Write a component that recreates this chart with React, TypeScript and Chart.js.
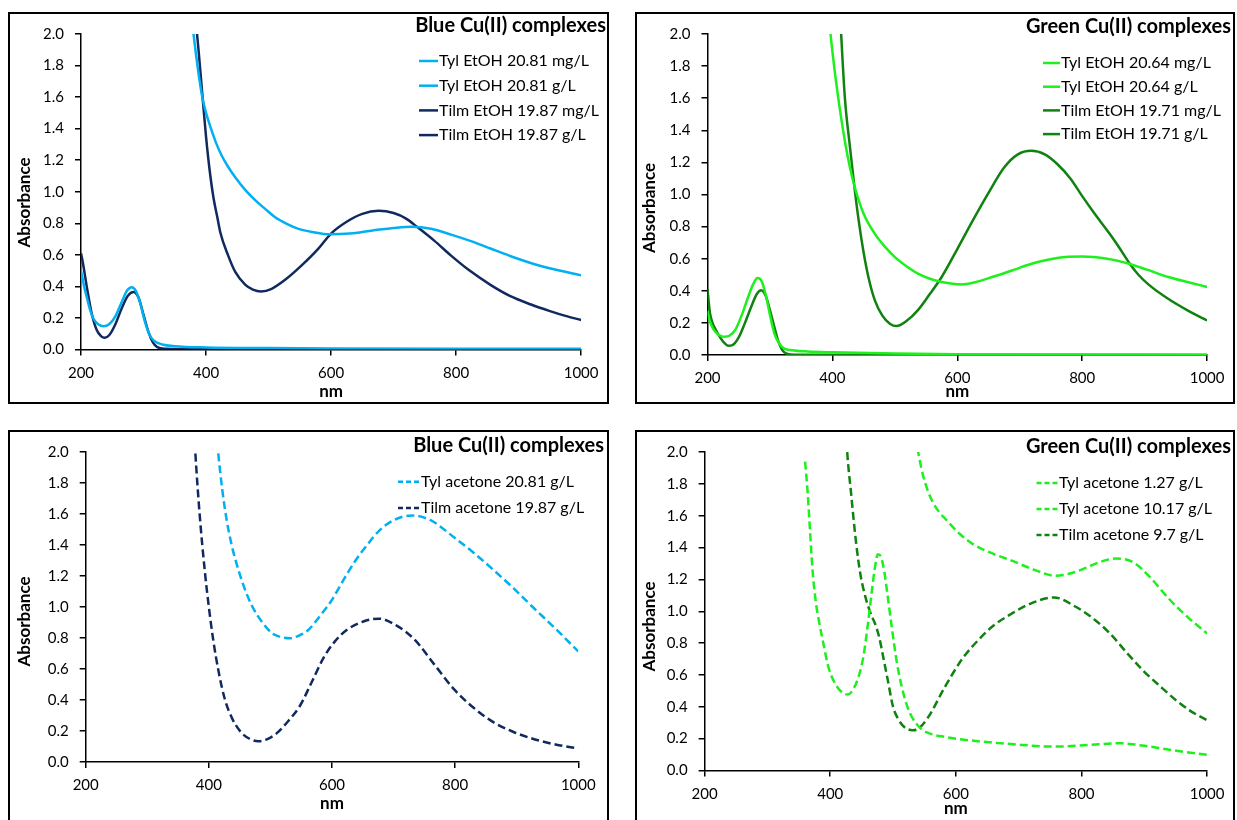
import React, { useEffect, useRef } from "react";
import { Chart, registerables } from "chart.js";
Chart.register(...registerables);

type Pt = [number, number];

// ---------- Panel 1: Blue Cu(II) complexes, EtOH ----------
const tylEtohBlueMg: Pt[] = [[200,0.50],[205,0.40],[210,0.32],[215,0.245],[220,0.195],[228,0.158],[236,0.147],[245,0.16],[255,0.21],[265,0.30],[274,0.375],[281,0.395],[288,0.37],[295,0.29],[302,0.18],[310,0.09],[318,0.052],[330,0.032],[350,0.021],[400,0.013],[500,0.009],[600,0.007],[800,0.005],[1000,0.004]];
const tylEtohBlueG: Pt[] = [[372,2.3],[380,2.0],[387,1.78],[394,1.6],[400,1.5],[408,1.4],[416,1.31],[425,1.23],[435,1.16],[447,1.09],[463,1.01],[479,0.945],[495,0.89],[510,0.84],[530,0.795],[548,0.765],[570,0.745],[598,0.73],[630,0.735],[667,0.755],[700,0.77],[729,0.778],[760,0.765],[792,0.728],[825,0.685],[855,0.64],[885,0.595],[918,0.55],[960,0.505],[1000,0.47]];
const tilmEtohBlueMg: Pt[] = [[200,0.61],[203,0.55],[210,0.38],[217,0.23],[225,0.125],[232,0.085],[238,0.075],[245,0.09],[255,0.16],[265,0.26],[275,0.34],[284,0.365],[292,0.33],[300,0.22],[308,0.11],[315,0.045],[322,0.015],[335,0.005],[400,0.002],[1000,0.001]];
const tilmEtohBlueG: Pt[] = [[382,2.15],[388,1.9],[394,1.62],[400,1.35],[406,1.13],[412,0.96],[418,0.84],[423,0.74],[435,0.60],[447,0.49],[463,0.41],[475,0.38],[488,0.368],[505,0.385],[526,0.44],[553,0.533],[579,0.636],[600,0.735],[625,0.81],[650,0.86],[676,0.879],[700,0.865],[720,0.83],[738,0.776],[765,0.69],[792,0.595],[820,0.505],[855,0.41],[886,0.34],[920,0.285],[949,0.245],[975,0.213],[1000,0.187]];

// ---------- Panel 2: Green Cu(II) complexes, EtOH ----------
const tylEtohGreenMg: Pt[] = [[200,0.275],[203,0.22],[208,0.17],[215,0.135],[222,0.118],[228,0.114],[235,0.12],[245,0.16],[255,0.25],[265,0.36],[273,0.44],[280,0.48],[286,0.465],[293,0.38],[300,0.25],[307,0.135],[315,0.07],[323,0.04],[335,0.03],[360,0.022],[400,0.017],[500,0.009],[600,0.005],[800,0.003],[1000,0.002]];
const tylEtohGreenG: Pt[] = [[390,2.3],[397,2.0],[404,1.76],[412,1.53],[421,1.31],[428,1.17],[435.5,1.05],[450,0.88],[468,0.755],[484,0.675],[500,0.61],[518,0.555],[537,0.507],[556,0.475],[575,0.455],[606,0.44],[630,0.455],[656,0.486],[690,0.53],[719,0.569],[760,0.605],[800,0.614],[840,0.6],[875,0.569],[905,0.53],[938,0.486],[970,0.453],[1000,0.424]];
const tilmEtohGreenMg: Pt[] = [[200,0.41],[202,0.33],[204,0.26],[208,0.2],[212,0.166],[217,0.13],[222,0.10],[227,0.075],[233,0.058],[240,0.062],[250,0.11],[260,0.2],[270,0.3],[279,0.38],[286,0.403],[293,0.37],[300,0.28],[307,0.176],[313,0.09],[320,0.03],[327,0.008],[340,0.002],[1000,0.0]];
const tilmEtohGreenG: Pt[] = [[410,2.3],[414,2.0],[420,1.6],[428,1.3],[435.5,1.04],[442,0.84],[449.5,0.65],[458,0.48],[468,0.34],[480,0.245],[492,0.195],[502.6,0.18],[518,0.21],[537,0.28],[556,0.38],[575,0.486],[600,0.66],[624.7,0.837],[650,1.01],[675,1.168],[697,1.25],[718.6,1.272],[740,1.25],[760,1.19],[781,1.1],[800,0.99],[820,0.88],[844,0.755],[860,0.665],[875,0.575],[890,0.5],[906,0.44],[937.6,0.35],[970,0.275],[1000,0.215]];

// ---------- Panel 3: Blue Cu(II) complexes, acetone ----------
const tylAcetoneBlue: Pt[] = [[408,2.3],[415,2.0],[422,1.75],[429,1.56],[437,1.40],[445,1.28],[458,1.12],[471,1.0],[487,0.9],[503,0.83],[518,0.805],[532,0.798],[546,0.815],[561,0.85],[580,0.94],[599,1.04],[618,1.17],[637.7,1.297],[657,1.4],[676,1.49],[700,1.56],[730,1.59],[760,1.56],[798,1.45],[830,1.35],[862,1.24],[895,1.12],[926,1.0],[963,0.86],[1000,0.713]];
const tilmAcetoneBlue: Pt[] = [[374,2.3],[378,2.0],[385,1.6],[394,1.21],[400,1.0],[407,0.79],[416,0.58],[426,0.405],[438,0.28],[452,0.193],[466,0.15],[480.5,0.134],[495,0.148],[509.5,0.183],[528,0.26],[548,0.363],[567,0.515],[586,0.67],[605,0.78],[625,0.855],[650,0.905],[676,0.925],[705,0.88],[734,0.79],[766,0.63],[798,0.47],[830,0.35],[862,0.257],[894,0.195],[926,0.15],[963,0.113],[1000,0.087]];

// ---------- Panel 4: Green Cu(II) complexes, acetone ----------
const tylAcetone127: Pt[] = [[360,1.94],[364,1.75],[367,1.56],[372,1.25],[377,1.06],[382,0.94],[390,0.78],[397,0.65],[412,0.52],[428,0.477],[438,0.52],[446,0.6],[453,0.72],[460,0.92],[466,1.118],[471,1.27],[476,1.358],[481,1.34],[486,1.25],[492,1.08],[498,0.9],[506,0.68],[514,0.524],[522,0.41],[530,0.336],[545,0.26],[560,0.23],[582,0.211],[600,0.2],[640,0.182],[688,0.166],[756,0.15],[810,0.16],[861,0.171],[900,0.155],[940,0.13],[1000,0.098]];
const tylAcetone1017: Pt[] = [[536,2.1],[540,2.0],[548,1.85],[556,1.75],[564,1.68],[574,1.62],[584,1.577],[605,1.49],[627.7,1.42],[660,1.36],[690,1.316],[725,1.26],[758.6,1.223],[780,1.235],[802,1.264],[830,1.31],[855,1.331],[883,1.306],[910,1.21],[939.5,1.077],[970,0.96],[1000,0.86]];
const tilmAcetoneGreen: Pt[] = [[423,2.3],[427,2.0],[433,1.75],[440.6,1.45],[448,1.233],[456,1.09],[461,1.024],[466,0.97],[471.6,0.92],[478,0.837],[485,0.7],[492,0.56],[500,0.40],[508,0.325],[516,0.28],[523,0.26],[531,0.253],[540,0.262],[556,0.335],[582.5,0.524],[610,0.7],[635,0.816],[660,0.91],[688,0.983],[720,1.05],[756,1.087],[790,1.03],[820,0.95],[846,0.858],[872,0.74],[898,0.628],[925,0.53],[951,0.44],[975,0.37],[1000,0.316]];

// ---------- labels ----------
const titleBlue = "Blue Cu(II) complexes";
const titleGreen = "Green Cu(II) complexes";
const xLabel = "nm";
const yLabel = "Absorbance";
const xTicks = [200, 400, 600, 800, 1000];
const yTicks = [0, 0.2, 0.4, 0.6, 0.8, 1.0, 1.2, 1.4, 1.6, 1.8, 2.0];

const FONT = "Lato, 'Open Sans', sans-serif";
const LIGHT_BLUE = "#00B0F0";
const NAVY = "#10295E";
const LIME = "#1DF01D";
const DARK_GREEN = "#0F820F";
const DASH = [8, 4];

type SeriesDef = { label: string; data: Pt[]; color: string; dashed?: boolean };

const overlayPlugin = {
  id: "overlay",
  afterDraw(chart: any, _args: any, opts: any) {
    const ctx = chart.ctx as CanvasRenderingContext2D;
    ctx.save();
    ctx.fillStyle = "#000";
    ctx.textBaseline = "middle";
    // title
    ctx.font = `bold 20px ${FONT}`;
    ctx.textAlign = "right";
    ctx.fillText(opts.title, opts.titleRight, opts.titleY);
    // legend
    ctx.font = `16px ${FONT}`;
    ctx.textAlign = "left";
    chart.data.datasets.forEach((ds: any, i: number) => {
      const y = opts.legendY + i * opts.rowH;
      ctx.strokeStyle = ds.borderColor;
      ctx.lineWidth = 2.5;
      ctx.setLineDash(ds.borderDash && ds.borderDash.length ? [5, 3] : []);
      ctx.beginPath();
      ctx.moveTo(opts.sampleX0, y);
      ctx.lineTo(opts.sampleX1, y);
      ctx.stroke();
      ctx.setLineDash([]);
      ctx.fillText(ds.label, opts.sampleX1 + 1, y);
    });
    // y axis title
    ctx.font = `bold 17px ${FONT}`;
    ctx.textAlign = "center";
    ctx.translate(opts.yTitleX, opts.yTitleY);
    ctx.rotate(-Math.PI / 2);
    ctx.fillText(yLabel, 0, 0);
    ctx.restore();
  },
};

type PanelSpec = {
  left: number; top: number; width: number; height: number; noBottom?: boolean;
  title: string; series: SeriesDef[];
  yWidth: number; xHeight: number; padTop: number; padRight: number; nmPad: number;
  titleRight: number; titleY: number; legendY: number; rowH: number; sampleX0: number; sampleX1: number;
  yTitleX: number; yTitleY: number;
};

function Panel({ spec }: { spec: PanelSpec }) {
  const ref = useRef<HTMLCanvasElement>(null);
  const cw = spec.width - 4;
  const ch = spec.height - (spec.noBottom ? 2 : 4);
  useEffect(() => {
    const chart = new Chart(ref.current as HTMLCanvasElement, {
      type: "line",
      data: {
        datasets: spec.series.map((s) => ({
          label: s.label,
          data: s.data.map(([x, y]) => ({ x, y })),
          borderColor: s.color,
          backgroundColor: s.color,
          borderWidth: 2.5,
          borderDash: s.dashed ? DASH : [],
          pointRadius: 0,
          cubicInterpolationMode: "monotone",
          fill: false,
        })),
      },
      options: {
        animation: false,
        responsive: false,
        events: [],
        layout: { padding: { top: spec.padTop, right: spec.padRight, left: 0, bottom: 0 } },
        plugins: {
          legend: { display: false },
          title: { display: false },
          tooltip: { enabled: false },
          overlay: {
            title: spec.title, titleRight: spec.titleRight, titleY: spec.titleY,
            legendY: spec.legendY, rowH: spec.rowH, sampleX0: spec.sampleX0, sampleX1: spec.sampleX1,
            yTitleX: spec.yTitleX, yTitleY: spec.yTitleY,
          },
        } as any,
        scales: {
          x: {
            type: "linear",
            min: xTicks[0],
            max: xTicks[xTicks.length - 1],
            afterBuildTicks: (scale: any) => { scale.ticks = xTicks.map((v) => ({ value: v })); },
            afterFit: (scale: any) => { scale.height = spec.xHeight; },
            ticks: { color: "#000", font: { family: FONT, size: 15 }, padding: 8.5, maxRotation: 0, callback: (v: any) => String(v) },
            grid: { display: true, drawOnChartArea: false, drawTicks: true, tickLength: 6, color: "#000", lineWidth: 1.5 },
            border: { display: true, color: "#000", width: 1.5 },
            title: { display: true, text: xLabel, color: "#000", font: { family: FONT, size: 17, weight: "bold" }, padding: { top: 0, bottom: spec.nmPad } },
          },
          y: {
            type: "linear",
            min: yTicks[0],
            max: yTicks[yTicks.length - 1],
            afterBuildTicks: (scale: any) => { scale.ticks = yTicks.map((v) => ({ value: v })); },
            afterFit: (scale: any) => { scale.width = spec.yWidth; },
            ticks: { color: "#000", font: { family: FONT, size: 15 }, padding: 11, callback: (v: any) => Number(v).toFixed(1) },
            grid: { display: true, drawOnChartArea: false, drawTicks: true, tickLength: 6, color: "#000", lineWidth: 1.5 },
            border: { display: true, color: "#000", width: 1.5 },
          },
        },
      } as any,
      plugins: [overlayPlugin as any],
    });
    return () => chart.destroy();
  }, []);
  return (
    <div
      style={{
        position: "absolute", left: spec.left, top: spec.top, width: spec.width, height: spec.height,
        boxSizing: "border-box", border: "2px solid #000", borderBottom: spec.noBottom ? "none" : "2px solid #000",
        background: "#fff", overflow: "hidden",
      }}
    >
      <canvas ref={ref} width={cw} height={ch} style={{ display: "block", width: cw, height: ch }} />
    </div>
  );
}

const panels: PanelSpec[] = [
  {
    left: 8, top: 12, width: 601, height: 392, title: titleBlue,
    series: [
      { label: "Tyl EtOH 20.81 mg/L", data: tylEtohBlueMg, color: LIGHT_BLUE },
      { label: "Tyl EtOH 20.81 g/L", data: tylEtohBlueG, color: LIGHT_BLUE },
      { label: "Tilm EtOH 19.87 mg/L", data: tilmEtohBlueMg, color: NAVY },
      { label: "Tilm EtOH 19.87 g/L", data: tilmEtohBlueG, color: NAVY },
    ],
    yWidth: 71, xHeight: 52.5, padTop: 12, padRight: 22, nmPad: 0.5,
    titleRight: 596, titleY: 12, legendY: 47, rowH: 24.7, sampleX0: 409, sampleX1: 428,
    yTitleX: 14.5, yTitleY: 188.5,
  },
  {
    left: 635, top: 12, width: 600, height: 392, title: titleGreen,
    series: [
      { label: "Tyl EtOH 20.64 mg/L", data: tylEtohGreenMg, color: LIME },
      { label: "Tyl EtOH 20.64 g/L", data: tylEtohGreenG, color: LIME },
      { label: "Tilm EtOH 19.71 mg/L", data: tilmEtohGreenMg, color: DARK_GREEN },
      { label: "Tilm EtOH 19.71 g/L", data: tilmEtohGreenG, color: DARK_GREEN },
    ],
    yWidth: 70.5, xHeight: 47, padTop: 18.7, padRight: 21, nmPad: 0.5,
    titleRight: 594, titleY: 13, legendY: 49, rowH: 23.7, sampleX0: 406, sampleX1: 423,
    yTitleX: 12.6, yTitleY: 194,
  },
  {
    left: 8, top: 430, width: 601, height: 390, noBottom: true, title: titleBlue,
    series: [
      { label: "Tyl acetone 20.81 g/L", data: tylAcetoneBlue, color: LIGHT_BLUE, dashed: true },
      { label: "Tilm acetone 19.87 g/L", data: tilmAcetoneBlue, color: NAVY, dashed: true },
    ],
    yWidth: 75.7, xHeight: 58, padTop: 16, padRight: 28.7, nmPad: 6.5,
    titleRight: 594, titleY: 14, legendY: 49.7, rowH: 26.3, sampleX0: 388, sampleX1: 410,
    yTitleX: 14.5, yTitleY: 189.5,
  },
  {
    left: 635, top: 430, width: 600, height: 390, noBottom: true, title: titleGreen,
    series: [
      { label: "Tyl acetone 1.27 g/L", data: tylAcetone127, color: LIME, dashed: true },
      { label: "Tyl acetone 10.17 g/L", data: tylAcetone1017, color: LIME, dashed: true },
      { label: "Tilm acetone 9.7 g/L", data: tilmAcetoneGreen, color: DARK_GREEN, dashed: true },
    ],
    yWidth: 67.6, xHeight: 49.5, padTop: 18.7, padRight: 22, nmPad: 1.5,
    titleRight: 594, titleY: 14.5, legendY: 51, rowH: 26, sampleX0: 399.5, sampleX1: 421,
    yTitleX: 12.6, yTitleY: 194.5,
  },
];

export default function App() {
  return (
    <>
      <style>{"html,body{margin:0;padding:0;overflow:hidden;background:#fff}"}</style>
      <div style={{ position: "relative", width: 1237, height: 820, overflow: "hidden", background: "#fff" }}>
        {panels.map((p, i) => (
          <Panel key={i} spec={p} />
        ))}
      </div>
    </>
  );
}
